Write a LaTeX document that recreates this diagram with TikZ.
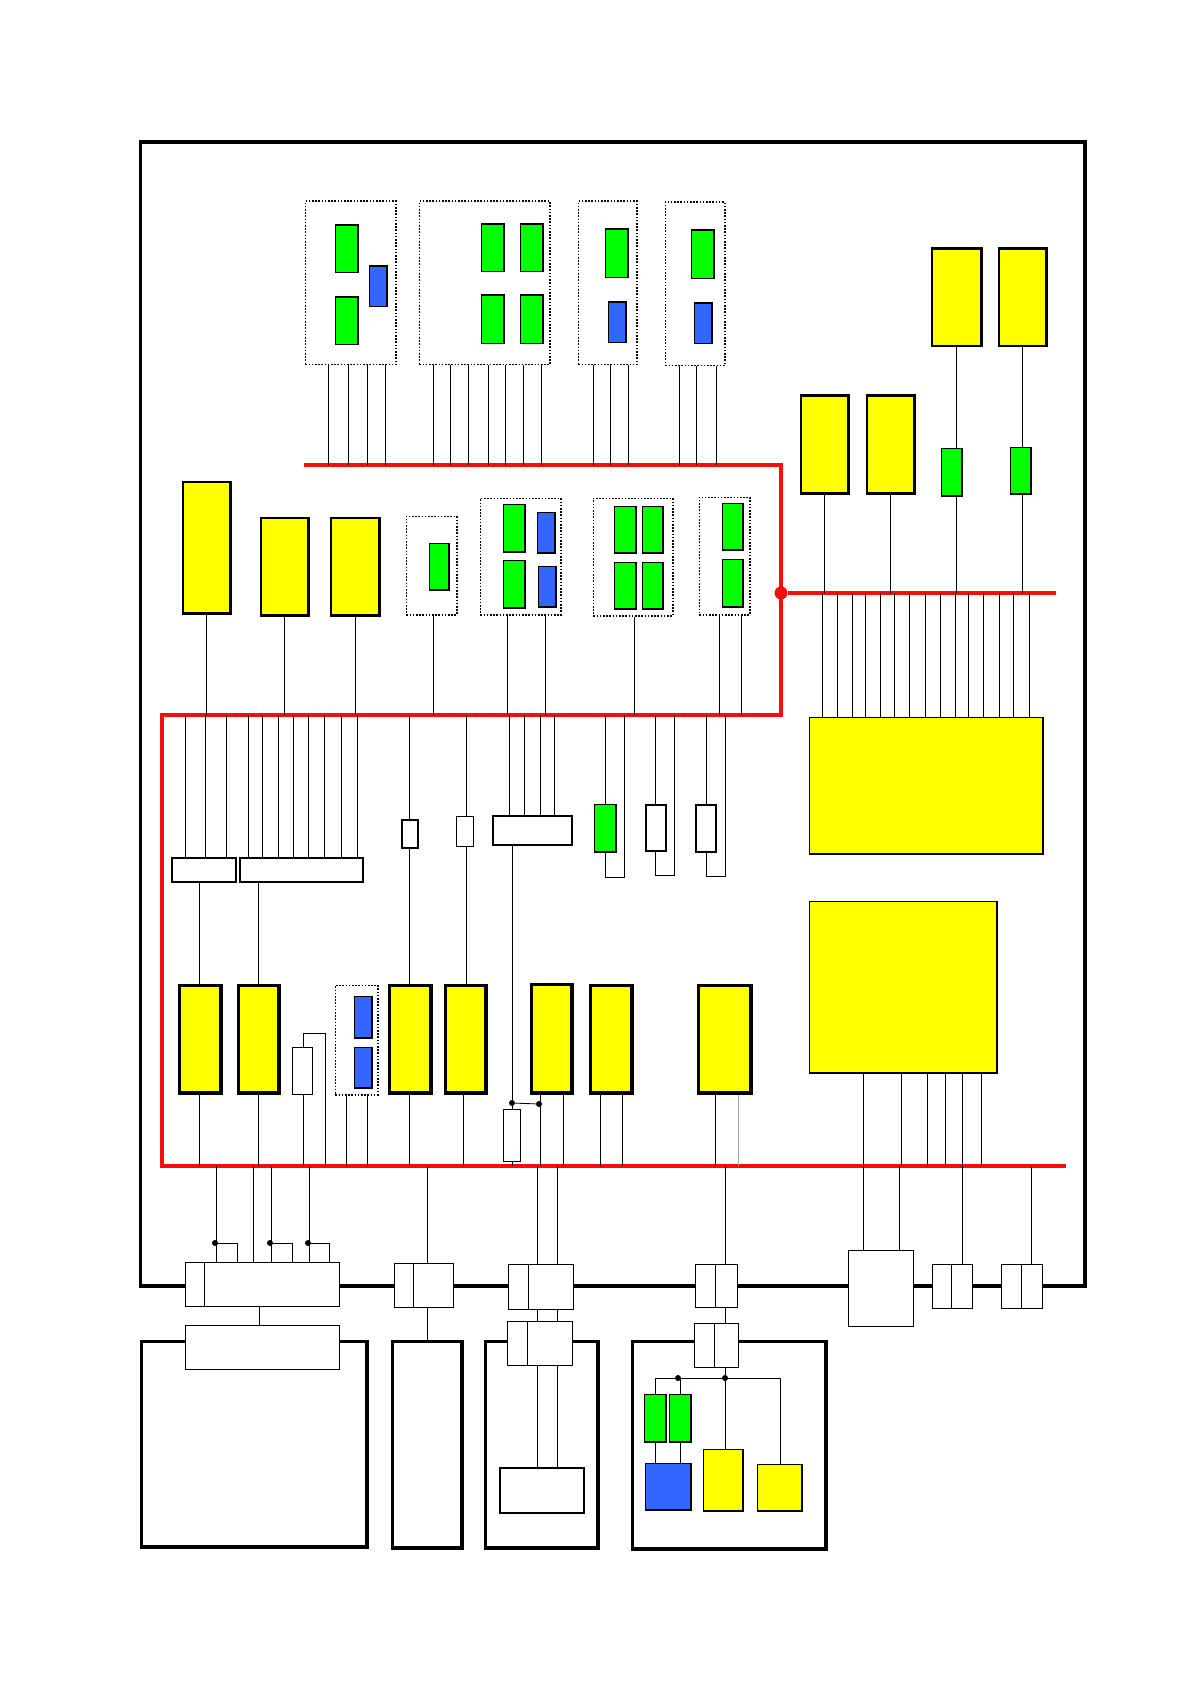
\documentclass[tikz,border=0pt]{standalone}
\definecolor{blk}{HTML}{000000}
\definecolor{yel}{HTML}{FFFF00}
\definecolor{grn}{HTML}{00FF00}
\definecolor{blu}{HTML}{3366FF}
\definecolor{busred}{HTML}{F80C0C}
\tikzset{
  plain/.style={draw=blk,inner sep=0pt,anchor=north west},
  yelbox/.style={plain,fill=yel,line width=1.1pt},
  grnbox/.style={plain,fill=grn,line width=.8pt},
  blubox/.style={plain,fill=blu,line width=.6pt},
  whtbox/.style={plain,fill=white,line width=.5pt},
  dotbox/.style={plain,line width=.8pt,dash pattern=on .8pt off .8pt},
  framebox/.style={plain,line width=1.9pt},
  wire/.style={draw=blk,line width=.42pt},
  bus/.style={draw=busred,line width=2pt},
  jdot/.style={circle,fill=blk,inner sep=0pt,minimum size=3pt},
}
\newcommand{\blk}[6]{\node[#1,minimum width={(#4-#2+1)*0.5pt-\pgflinewidth},minimum height={(#5-#3+1)*0.5pt-\pgflinewidth}] (#6) at (#2-.5,#3-.5) {}}
\begin{document}
\begin{tikzpicture}[x=0.5pt,y=-0.5pt]
  \useasboundingbox (0,0) rectangle (1190,1684);
  \foreach \nm/\xa/\ya/\xb/\yb in {outer/139/141/1086/1287, roomL/140/1340/368/1548, roomM/391/1340/463/1549, roomN/484/1340/599/1549, roomJ/631/1340/827/1550}
    \blk{framebox}{\xa}{\ya}{\xb}{\yb}{\nm};
  \coordinate (bustop) at (304,465);
  \coordinate (buscorner) at (781,465);
  \coordinate (busmid) at (781,715);
  \coordinate (busleft) at (162,715);
  \coordinate (busdown) at (162,1166);
  \coordinate (busend) at (1066,1166);
  \coordinate (tapend) at (1056,593);
  \draw[bus] (bustop) -- (buscorner) -- (busmid) -- (busleft) -- (busdown) -- (busend);
  \node[circle,fill=busred,inner sep=0pt,minimum size=6.5pt] (tap) at (781,593) {};
  \draw[bus] (tap) -- (tapend);
  \foreach \nm/\xa/\ya/\xb/\yb in {grpa/305/201/396/365, grpb/419/201/550/365, grpc/578/201/637/365, grpd/665/202/725/366, grpe/406/516/457/615, grpf/480/498/561/615, grpg/593/498/673/616, grph/699/497/750/615, grpi/335/985/378/1095}
    \blk{dotbox}{\xa}{\ya}{\xb}{\yb}{\nm};
  \foreach \nm/\xa/\ya/\xb/\yb in {ga/335/225/358/273, gb/335/297/358/345, gc/481/224/504/272, gd/520/224/543/272, ge/481/295/504/344, gf/520/295/543/344, gg/605/229/628/278, gh/691/230/714/279, gi/429/543/449/590, gj/503/504/525/552, gk/503/560/525/608, gl/614/506/636/553, gm/642/506/663/553, gn/614/562/636/609, go/642/562/663/609, gp/722/503/743/550, gq/722/559/743/607, gr/941/448/962/496, gs/1010/447/1031/494, gt/594/804/616/852, gu/644/1394/666/1442, gv/669/1394/691/1442}
    \blk{grnbox}{\xa}{\ya}{\xb}{\yb}{\nm};
  \foreach \nm/\xa/\ya/\xb/\yb in {ba/369/266/387/307, bb/608/302/626/343, bc/694/303/712/344, bd/537/512/555/553, be/538/566/556/607, bf/354/996/372/1038, bg/354/1047/372/1088, bh/645/1463/691/1510}
    \blk{blubox}{\xa}{\ya}{\xb}{\yb}{\nm};
  \foreach \nm/\xa/\ya/\xb/\yb in {ya/931/248/982/347, yb/998/248/1047/347, yc/800/395/849/494, yd/866/395/915/494, ye/182/481/231/614, yf/260/517/309/616, yg/330/517/380/616}
    \blk{yelbox}{\xa}{\ya}{\xb}{\yb}{\nm};
  \foreach \nm/\xa/\ya/\xb/\yb in {yh/178/984/222/1094, yi/237/984/280/1094, yj/388/984/432/1094, yk/444/984/487/1094, yl/530/983/573/1094, ym/589/984/633/1094, yn/697/984/752/1094}
    \blk{yelbox,line width=1.7pt}{\xa}{\ya}{\xb}{\yb}{\nm};
  \foreach \nm/\xa/\ya/\xb/\yb in {bigup/809/717/1043/854, bigdn/809/901/997/1073, yo/703/1449/743/1511, yp/757/1464/802/1511}
    \blk{yelbox,line width=.8pt}{\xa}{\ya}{\xb}{\yb}{\nm};
  \foreach \nm/\xa/\ya/\xb/\yb in {sa/171/857/236/882, sb/239/857/363/882, ta/401/819/418/848, va/492/815/572/845, wb/645/804/666/851, wc/695/804/716/852, inner/499/1467/584/1513}
    \blk{whtbox,line width=1pt}{\xa}{\ya}{\xb}{\yb}{\nm};
  \foreach \nm/\xa/\ya/\xb/\yb in {ua/456/816/473/846, wa/292/1047/312/1094, ra/503/1109/520/1161, conna/185/1262/339/1306, connb/185/1325/339/1369, connc/394/1263/453/1307, connd/508/1264/573/1309, conne/507/1321/572/1365, connf/695/1264/737/1307, conng/694/1323/738/1367, boxe/848/1250/913/1326, connh/932/1264/972/1308, conni/1001/1264/1042/1308}
    \blk{whtbox}{\xa}{\ya}{\xb}{\yb}{\nm};
  \foreach \nm/\x in {conna/204, connc/413, connd/528, conne/527, connf/715, conng/714, connh/951, conni/1021}
    \draw[wire] (\x,0 |- \nm.north) -- (\x,0 |- \nm.south);
  \foreach \x in {328,348,367,385} \draw[wire] (\x,0 |- grpa.south) -- (\x,0 |- bustop);
  \foreach \x in {433,450,468,488,505,523,541} \draw[wire] (\x,0 |- grpb.south) -- (\x,0 |- bustop);
  \foreach \x in {593,610,628} \draw[wire] (\x,0 |- grpc.south) -- (\x,0 |- bustop);
  \foreach \x in {679,696,716} \draw[wire] (\x,0 |- grpd.south) -- (\x,0 |- bustop);
  \foreach \x/\nm in {206/ye,284/yf,355/yg,433/grpe,507/grpf,545/grpf,634/grpg,719/grph,741/grph}
    \draw[wire] (\x,0 |- \nm.south) -- (\x,0 |- busleft);
  \foreach \x/\nm in {824/yc,890/yd,956/gr,1022/gs}
    \draw[wire] (\x,0 |- \nm.south) -- (\x,0 |- tap);
  \draw[wire] (956,0 |- ya.south) -- (956,0 |- gr.north);
  \draw[wire] (1022,0 |- yb.south) -- (1022,0 |- gs.north);
  \foreach \x in {822,837,852,865,880,894,909,925,940,955,968,983,999,1013,1029}
    \draw[wire] (\x,0 |- tap) -- (\x,0 |- bigup.north);
  \foreach \x in {185,205,226} \draw[wire] (\x,0 |- busleft) -- (\x,0 |- sa.north);
  \foreach \x in {248,262,278,293,308,324,341,357} \draw[wire] (\x,0 |- busleft) -- (\x,0 |- sb.north);
  \foreach \x in {509,524,540,554} \draw[wire] (\x,0 |- busleft) -- (\x,0 |- va.north);
  \draw[wire] (199,0 |- sa.south) -- (199,0 |- yh.north);
  \draw[wire] (258,0 |- sb.south) -- (258,0 |- yi.north);
  \draw[wire] (409,0 |- busleft) -- (409,0 |- ta.north);
  \draw[wire] (409,0 |- ta.south) -- (409,0 |- yj.north);
  \draw[wire] (466,0 |- busleft) -- (466,0 |- ua.north);
  \draw[wire] (466,0 |- ua.south) -- (466,0 |- yk.north);
  \draw[wire] (605,0 |- busleft) -- (605,0 |- gt.north);
  \draw[wire] (655,0 |- busleft) -- (655,0 |- wb.north);
  \draw[wire] (706,0 |- busleft) -- (706,0 |- wc.north);
  \coordinate (loopa) at (624,877);
  \coordinate (loopb) at (674,875);
  \coordinate (loopc) at (725,876);
  \draw[wire] (605,0 |- gt.south) |- (loopa) -- (loopa |- busleft);
  \draw[wire] (655,0 |- wb.south) |- (loopb) -- (loopb |- busleft);
  \draw[wire] (706,0 |- wc.south) |- (loopc) -- (loopc |- busleft);
  \foreach \x/\nm in {199/yh,258/yi,303/wa,346/grpi,367/grpi,409/yj,463/yk,540/yl,563/yl,600/ym,622/ym,715/yn}
    \draw[wire] (\x,0 |- \nm.south) -- (\x,0 |- busdown);
  \draw[wire,draw=black!35] (738,0 |- yn.south) -- (738,0 |- busdown);
  \foreach \x/\nm in {863/bigdn,901/bigdn,927/bigdn,945/bigdn,962/bigdn,981/bigdn}
    \draw[wire] (\x,0 |- \nm.south) -- (\x,0 |- busdown);
  \coordinate (loopd) at (325,1033);
  \draw[wire] (303,0 |- wa.north) |- (loopd) -- (loopd |- busdown);
  \node[jdot] (dote) at (512,1103) {};
  \node[jdot] (dotf) at (539,1104) {};
  \draw[wire] (512,0 |- va.south) -- (dote);
  \draw[wire] (dote) -- (ra.north -| dote);
  \draw[wire] (ra.south -| dote) -- (dote |- busdown);
  \draw[wire] (dote) -- (dotf);
  \foreach \x/\nm in {216/conna,253/conna,271/conna,309/conna,427/connc,537/connd,557/connd,725/connf,863/boxe,899/boxe,962/connh,1031/conni}
    \draw[wire] (\x,0 |- busdown) -- (\x,0 |- \nm.north);
  \node[jdot] (dota) at (215,1243) {};
  \node[jdot] (dotb) at (270,1243) {};
  \node[jdot] (dotc) at (308,1243) {};
  \draw[wire] (dota) -| (237,0 |- conna.north);
  \draw[wire] (dotb) -| (292,0 |- conna.north);
  \draw[wire] (dotc) -| (329,0 |- conna.north);
  \draw[wire] (259,0 |- conna.south) -- (259,0 |- connb.north);
  \draw[wire] (427,0 |- connc.south) -- (427,0 |- roomM.north);
  \foreach \x in {537,557} {
    \draw[wire] (\x,0 |- connd.south) -- (\x,0 |- conne.north);
    \draw[wire] (\x,0 |- conne.south) -- (\x,0 |- inner.north);
  }
  \draw[wire] (725,0 |- connf.south) -- (725,0 |- conng.north);
  \node[jdot] (dotg) at (678,1378) {};
  \node[jdot] (doth) at (725,1378) {};
  \coordinate (railend) at (780,1378);
  \draw[wire] (725,0 |- conng.south) -- (doth);
  \draw[wire] (655,0 |- gu.north) |- (railend) -- (railend |- yp.north);
  \draw[wire] (doth) -- (725,0 |- yo.north);
  \draw[wire] (680,0 |- dotg) -- (680,0 |- gv.north);
  \draw[wire] (655,0 |- gu.south) -- (655,0 |- bh.north);
  \draw[wire] (680,0 |- gv.south) -- (680,0 |- bh.north);
\end{tikzpicture}
\end{document}
